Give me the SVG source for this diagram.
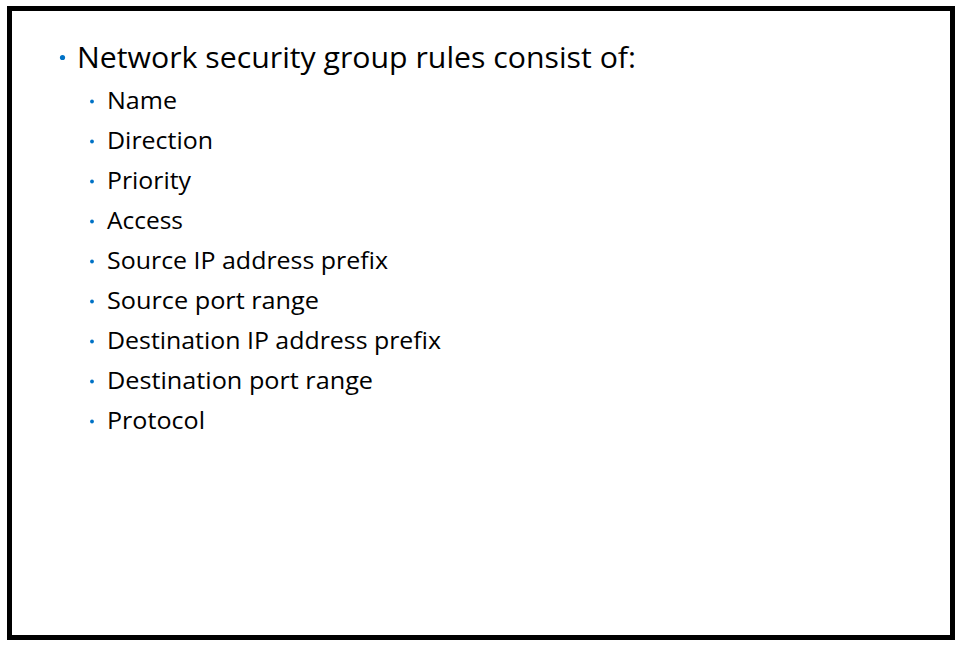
<svg xmlns="http://www.w3.org/2000/svg" width="960" height="645" viewBox="0 0 960 645">
<style>
.t1{font-family:"Open Sans","Noto Sans","Liberation Sans",sans-serif;font-size:29px;fill:#000}
.t2{font-family:"Open Sans","Noto Sans","Liberation Sans",sans-serif;font-size:23px;fill:#000}
.b{fill:#0072C6}
</style>
<rect x="0" y="0" width="960" height="645" fill="#fff"/>
<rect id="frame" x="9.5" y="8.5" width="943" height="629" fill="#fff" stroke="#000" stroke-width="5"/>
<g id="title">
<circle class="b" cx="62.5" cy="57.5" r="2.6"/>
<text class="t1" x="77" y="68" textLength="559" lengthAdjust="spacingAndGlyphs">Network security group rules consist of:</text>
</g>
<g id="items">
<circle class="b" cx="92" cy="101.5" r="1.9"/>
<text class="t2" x="107" y="109" textLength="70" lengthAdjust="spacingAndGlyphs">Name</text>
<circle class="b" cx="92" cy="141.5" r="1.9"/>
<text class="t2" x="107" y="149" textLength="106" lengthAdjust="spacingAndGlyphs">Direction</text>
<circle class="b" cx="92" cy="181.5" r="1.9"/>
<text class="t2" x="107" y="189" textLength="84" lengthAdjust="spacingAndGlyphs">Priority</text>
<circle class="b" cx="92" cy="221.5" r="1.9"/>
<text class="t2" x="107" y="229" textLength="76" lengthAdjust="spacingAndGlyphs">Access</text>
<circle class="b" cx="92" cy="261.5" r="1.9"/>
<text class="t2" x="107" y="269" textLength="281" lengthAdjust="spacingAndGlyphs">Source IP address prefix</text>
<circle class="b" cx="92" cy="301.5" r="1.9"/>
<text class="t2" x="107" y="309" textLength="212" lengthAdjust="spacingAndGlyphs">Source port range</text>
<circle class="b" cx="92" cy="341.5" r="1.9"/>
<text class="t2" x="107" y="349" textLength="334" lengthAdjust="spacingAndGlyphs">Destination IP address prefix</text>
<circle class="b" cx="92" cy="381.5" r="1.9"/>
<text class="t2" x="107" y="389" textLength="266" lengthAdjust="spacingAndGlyphs">Destination port range</text>
<circle class="b" cx="92" cy="421.5" r="1.9"/>
<text class="t2" x="107" y="429" textLength="98" lengthAdjust="spacingAndGlyphs">Protocol</text>
</g>
</svg>
